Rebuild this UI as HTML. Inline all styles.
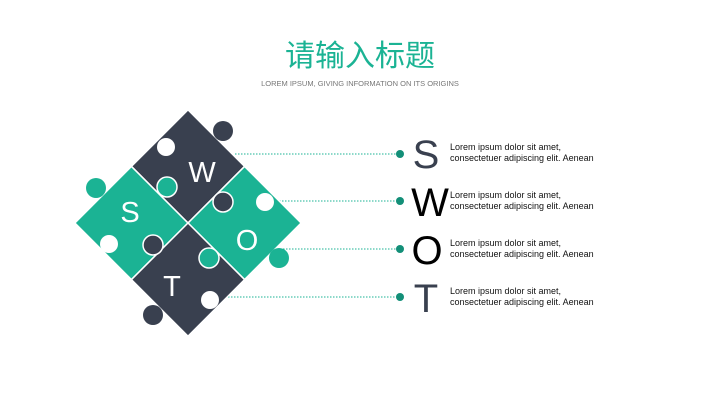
<!DOCTYPE html>
<html><head><meta charset="utf-8"><style>
body{margin:0;width:721px;height:405px;background:#fff;overflow:hidden;font-family:"Liberation Sans",sans-serif}
</style></head><body>
<svg width="721" height="405" xmlns="http://www.w3.org/2000/svg">
<text x="360" y="66" text-anchor="middle" font-family="Liberation Sans,Noto Sans CJK SC,sans-serif" font-size="30" fill="#1bb394">请输入标题</text>
<text x="360" y="86" text-anchor="middle" font-size="7.5" fill="#777">LOREM IPSUM, GIVING INFORMATION  ON ITS ORIGINS</text>
<g stroke="#1bb394" stroke-width="1" stroke-dasharray="1.5,1.5">
<line x1="235" y1="154" x2="400" y2="154"/><line x1="255" y1="201" x2="400" y2="201"/>
<line x1="280" y1="249" x2="400" y2="249"/><line x1="195" y1="297" x2="400" y2="297"/>
</g>
<g fill="#138f78"><circle cx="400" cy="154" r="4"/><circle cx="400" cy="201" r="4"/><circle cx="400" cy="249" r="4"/><circle cx="400" cy="297" r="4"/></g>
<g transform="rotate(45 188 223)">
<rect x="108" y="143" width="80" height="80" fill="#39404f" stroke="#fff" stroke-width="1.5"/>
<rect x="188" y="143" width="80" height="80" fill="#1bb394" stroke="#fff" stroke-width="1.5"/>
<rect x="108" y="223" width="80" height="80" fill="#1bb394" stroke="#fff" stroke-width="1.5"/>
<rect x="188" y="223" width="80" height="80" fill="#39404f" stroke="#fff" stroke-width="1.5"/>
</g>
<circle cx="223" cy="131" r="10" fill="#39404f"/>
<circle cx="96" cy="188" r="10" fill="#1bb394"/>
<circle cx="279" cy="258" r="10" fill="#1bb394"/>
<circle cx="153" cy="315" r="10" fill="#39404f"/>
<circle cx="166" cy="147" r="9" fill="#fff"/>
<circle cx="109" cy="244" r="9" fill="#fff"/>
<circle cx="210" cy="300" r="9" fill="#fff"/>
<circle cx="265" cy="202" r="9" fill="#fff"/>
<circle cx="167" cy="187" r="10" fill="#1bb394" stroke="#fff" stroke-width="1.5"/>
<circle cx="223" cy="202" r="10" fill="#39404f" stroke="#fff" stroke-width="1.5"/>
<circle cx="209" cy="258" r="10" fill="#1bb394" stroke="#fff" stroke-width="1.5"/>
<circle cx="153" cy="245" r="10" fill="#39404f" stroke="#fff" stroke-width="1.5"/>
<g fill="#fff" font-size="29" text-anchor="middle">
<text x="202" y="182">W</text><text x="130" y="222">S</text><text x="247" y="250">O</text><text x="172" y="296">T</text>
</g>
<g font-size="40" text-anchor="middle">
<text x="426" y="168" fill="#39404f">S</text>
<text x="430" y="216" fill="#000">W</text>
<text x="427" y="264" fill="#000">O</text>
<text x="426" y="312" fill="#39404f">T</text>
</g>
<g font-size="9" fill="#111">
<text x="450" y="150">Lorem ipsum dolor sit amet,</text><text x="450" y="161">consectetuer  adipiscing elit. Aenean</text>
<text x="450" y="198">Lorem ipsum dolor sit amet,</text><text x="450" y="209">consectetuer  adipiscing elit. Aenean</text>
<text x="450" y="246">Lorem ipsum dolor sit amet,</text><text x="450" y="257">consectetuer  adipiscing elit. Aenean</text>
<text x="450" y="294">Lorem ipsum dolor sit amet,</text><text x="450" y="305">consectetuer  adipiscing elit. Aenean</text>
</g>
</svg>
</body></html>
